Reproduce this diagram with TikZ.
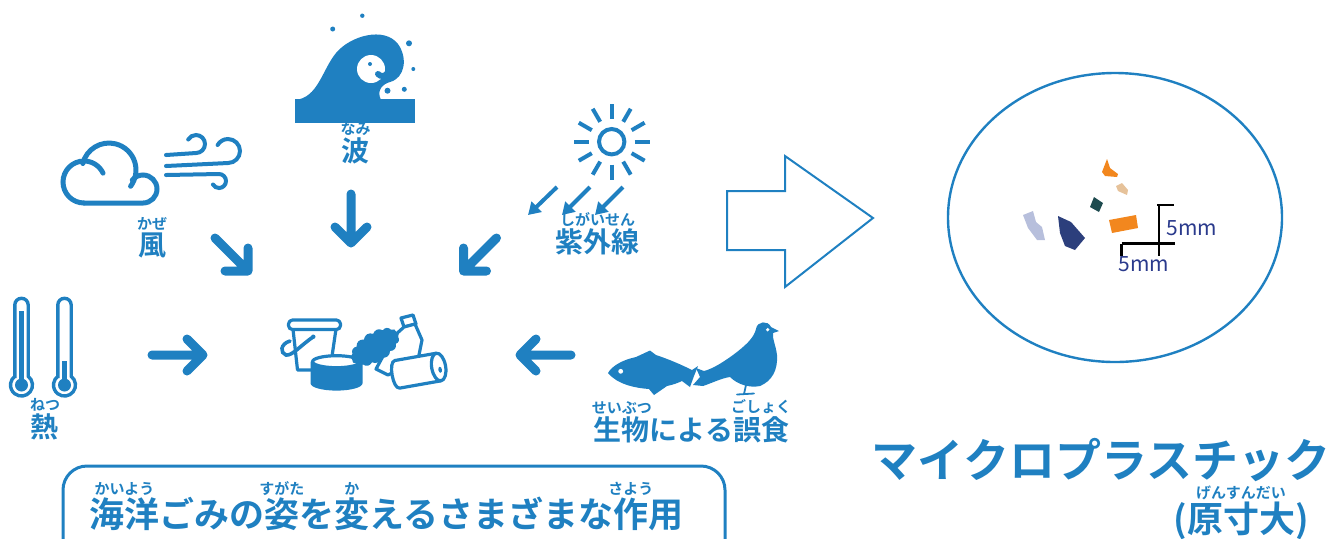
\documentclass[tikz,border=0pt]{standalone}
\usepackage{fontspec}
\usepackage{xcolor}
\usepackage{tikz}
\usetikzlibrary{arrows.meta,shapes.symbols}

\newfontfamily\jpfont{Noto Sans CJK JP}[BoldFont={Noto Sans CJK JP Bold}]
\definecolor{oceanblue}{HTML}{1F80C1}
\definecolor{scalenavy}{HTML}{2A3A8C}
\definecolor{chiporange}{HTML}{F2871E}
\definecolor{chiptan}{HTML}{E6C29A}
\definecolor{chipteal}{HTML}{1E4B4F}
\definecolor{chipnavy}{HTML}{2C3F7C}
\definecolor{chiplilac}{HTML}{B7BFDC}

% reading aid above a word
\newcommand\rubyfont{\fontsize{7.5pt}{7.5pt}\selectfont}
\newcommand\furi[2]{\leavevmode\setbox0\hbox{#1}\vbox{\hbox to\wd0{\hss{\rubyfont #2}\hss}\nointerlineskip\kern1pt\box0}}

\begin{document}
\begin{tikzpicture}[x=0.5pt, y=-0.5pt,
  lbl/.style={font=\jpfont\bfseries\fontsize{14pt}{14pt}\selectfont, text=oceanblue, inner sep=0pt, anchor=base},
  fatarrow/.style={draw=oceanblue, line width=4.5pt, line cap=round, line join=round},
  thinarrow/.style={draw=oceanblue, line width=2pt, -{Triangle[length=6pt, width=7pt]}},
  icon/.style={draw=oceanblue, line width=2.5pt, line cap=round},
  outline/.style={draw=oceanblue, fill=white, line width=1.6pt, line join=round},
  scalebar/.style={draw=black, line width=1.4pt},
  mmtext/.style={font=\jpfont\fontsize{10.5pt}{10.5pt}\selectfont, text=scalenavy, inner sep=0pt}
]
  \useasboundingbox (0,0) rectangle (1338,538);
  \clip (0,0) rectangle (1338,538);

  % Wave
  \fill[oceanblue] (295,99) rectangle (415,123);
  \fill[oceanblue] (295,100) .. controls (318,98) and (322,70) .. (336,53)
    .. controls (350,36) and (384,26) .. (398,44) .. controls (408,58) and (405,78) .. (390,82)
    .. controls (383,84) and (376,90) .. (381,100) -- cycle;
  \fill[white] (371,69) circle[radius=14];
  \draw[oceanblue, line width=3pt, line cap=round] (389,58) .. controls (393,72) and (384,80) .. (378,74);
  \foreach \px/\py/\r in {370/64/2, 332.7/29/2.5, 362.3/15.7/2.2, 409/43.3/3,
                          413.3/69/2, 387.5/90.7/3, 404.3/89.3/2.5}
    \fill[oceanblue] (\px,\py) circle[radius=\r];
  \node[lbl] (wave) at (355.5,161) {\furi{波}{なみ}};
  \draw[fatarrow] (351,194) -- (351,243) (335,227) -- (351,243) -- (367,227);

  % Cloud and wind
  \draw[icon] (84,203) arc[start angle=90, end angle=335, radius=21];
  \draw[icon] (82.8,163.5) arc[start angle=194, end angle=397, radius=27];
  \draw[icon] (84,203) -- (143,203) arc[start angle=90, end angle=-140, radius=14];
  \draw[icon, line width=2pt] (166,155) -- (196,153) arc[start angle=90, end angle=-150, radius=9];
  \draw[icon, line width=2pt] (166,166) -- (228,163) arc[start angle=90, end angle=-150, radius=12];
  \draw[icon, line width=2pt] (166,175) -- (219,174) arc[start angle=-90, end angle=150, radius=7];
  \node[lbl] (wind) at (152,255) {\furi{風}{かぜ}};
  \draw[fatarrow] (215,238) -- (248,271) (248,248) -- (248,271) -- (225,271);

  % Sun and UV rays
  \draw[icon, line width=2pt] (611.7,141.7) circle[radius=12.7];
  \foreach \a in {0,30,...,330}
    \draw[icon, line width=2pt, line cap=butt] (611.7,141.7) ++(\a:23) -- ++(\a:15);
  \draw[thinarrow] (557,187) -- (528,215);
  \draw[thinarrow] (590,187) -- (562,215);
  \draw[thinarrow] (623,187) -- (595,215);
  \node[lbl] (uv) at (597.5,252) {\furi{紫外線}{しがいせん}};
  \draw[fatarrow] (496.5,238) -- (463.5,271) (463.5,248) -- (463.5,271) -- (486.5,271);

  % Thermometers
  \foreach \cx/\lvl in {21.5/311, 64.5/361} {
    \draw[oceanblue, line width=1.7pt] (\cx-6.7,376.3) -- (\cx-6.7,305)
      arc[start angle=180, end angle=360, radius=6.7] -- (\cx+6.7,376.3)
      arc[start angle=-52.4, end angle=232.4, radius=11] -- cycle;
    \fill[oceanblue] (\cx-2.6,\lvl) rectangle (\cx+2.6,385);
    \fill[oceanblue] (\cx,385) circle[radius=6.5];
  }
  \node[lbl] (heat) at (45,437) {\furi{熱}{ねつ}};
  \draw[fatarrow] (152,355) -- (203,355) (187,339) -- (203,355) -- (187,371);

  % Marine litter
  \filldraw[outline] (293,329) -- (297.5,370) -- (330,370) -- (336,329);
  \filldraw[outline, rounded corners=2pt] (288.5,320) rectangle (340.5,329.5);
  \draw[oceanblue, line width=1.8pt, line cap=round] (313,337) .. controls (300,346) and (292,356) .. (286,355)
    .. controls (280,353) and (280,344) .. (290,341);
  \fill[oceanblue] (313.3,336.7) circle[radius=2.2];
  \fill[oceanblue] (310.5,361.7) -- (310.5,383.3) arc[start angle=180, end angle=0, x radius=26, y radius=7.3]
    -- (362.5,361.7) -- cycle;
  \filldraw[outline] (336.5,361.7) ellipse[x radius=24, y radius=6];
  \filldraw[outline] (401,318) -- (413,315) -- (416,324) -- (404,327) -- cycle;
  \filldraw[outline] (404,327) -- (394,336) -- (376,369) -- (388,375) -- (418,360) -- (422,340) -- (415,324) -- cycle;
  \node[cloud, cloud puffs=15, cloud puff arc=110, cloud ignores aspect, fill=oceanblue, minimum width=27pt,
        minimum height=15pt, inner sep=0pt, rotate=32] (bag) at (375,347) {};
  \begin{scope}[shift={(416,371)}, rotate=10]
    \filldraw[outline] (23,-14) -- (-19,-14) .. controls (-26,-14) and (-26,14) .. (-19,14) -- (23,14);
    \filldraw[outline] (23,0) ellipse[x radius=7, y radius=14];
    \fill[oceanblue] (24,3) ellipse[x radius=1.8, y radius=3];
  \end{scope}

  % Fish and bird
  \fill[oceanblue] (608,373) .. controls (612,366) and (622,360) .. (636,357) -- (650,350.5) -- (656,355)
    .. controls (668,359) and (680,364) .. (692,370) -- (698,366) -- (694,376) -- (690,387) -- (682,381)
    .. controls (678,383) and (672,385) .. (667,386) -- (654,395) -- (649,389)
    .. controls (636,388) and (618,385) .. (608,373) -- cycle;
  \fill[white] (620.7,371.3) circle[radius=2.4];
  \fill[oceanblue] (779,331) -- (771,327) .. controls (768,320) and (757,321) .. (756,329)
    .. controls (754,338) and (745,346) .. (733,355) .. controls (722,363) and (712,369) .. (704,371)
    -- (696,368) -- (700,377) -- (693,385) -- (703,386) .. controls (712,383) and (722,378) .. (730,377)
    .. controls (738,385) and (750,388) .. (760,386) .. controls (772,381) and (778,370) .. (777,355)
    .. controls (776,346) and (772,338) .. (773,333) -- cycle;
  \fill[white] (767.7,329.7) circle[radius=1.8];
  \draw[oceanblue, line width=0.9pt, line cap=round] (746,385) -- (744,394) (737,394.5) -- (754,393.5);
  \node[lbl] (bio) at (691.5,440) {\furi{生物}{せいぶつ}による\furi{誤食}{ごしょく}};
  \draw[fatarrow] (571,355) -- (520,355) (536,339) -- (520,355) -- (536,371);

  % Caption box
  \draw[draw=oceanblue, line width=1.5pt, rounded corners=12pt] (63,570) rectangle (725,466);
  \node[lbl, anchor=base west, font=\jpfont\bfseries\fontsize{17.5pt}{17.5pt}\selectfont] (caption) at (89,527)
    {\furi{海洋}{かいよう}ごみの\furi{姿}{すがた}を\furi{変}{か}えるさまざまな\furi{作}{さよう}用};

  % Hollow arrow
  \draw[draw=oceanblue, line width=1pt] (727,191) -- (785,191) -- (785,156) -- (873,218)
    -- (785,287) -- (785,250) -- (727,250) -- cycle;

  % Actual-size view
  \draw[draw=oceanblue, line width=1.2pt] (1115,217.5) ellipse[x radius=167, y radius=144.5];
  \fill[chiporange] (1107,159) -- (1110,168) -- (1118,174) -- (1117,177) -- (1105,176) -- (1102,172) -- cycle;
  \fill[chiptan] (1116,186) -- (1122,183) -- (1128,190) -- (1127,195) -- (1118,191) -- cycle;
  \fill[chipteal] (1094,197) -- (1103,203) -- (1099,212) -- (1090,207) -- cycle;
  \fill[chiporange] (1109,220) -- (1136,215) -- (1138,228) -- (1112,233) -- cycle;
  \fill[chipnavy] (1058,216) -- (1071,222) -- (1085,238) -- (1075,250) -- (1065,246) -- (1060,233) -- cycle;
  \fill[chiplilac] (1023,215) -- (1033,211) -- (1036,222) -- (1042,227) -- (1045,240) -- (1037,240) -- (1028,228) -- cycle;
  \draw[scalebar] (1157,205) -- (1174,205) (1159,205) -- (1159,256)
    (1121.7,243.5) -- (1175,243.5) (1121.7,243.5) -- (1121.7,256);
  \node[mmtext, anchor=west] (mmright) at (1166,228) {5mm};
  \node[mmtext] (mmbelow) at (1144,264) {5mm};

  % Title
  \node[lbl, font=\jpfont\bfseries\fontsize{23pt}{23pt}\selectfont] (mptitle) at (1101,477) {マイクロプラスチック};
  \node[lbl, font=\jpfont\bfseries\fontsize{18pt}{18pt}\selectfont] (mpsize) at (1241,532) {(\furi{原寸大}{げんすんだい})};
\end{tikzpicture}
\end{document}
